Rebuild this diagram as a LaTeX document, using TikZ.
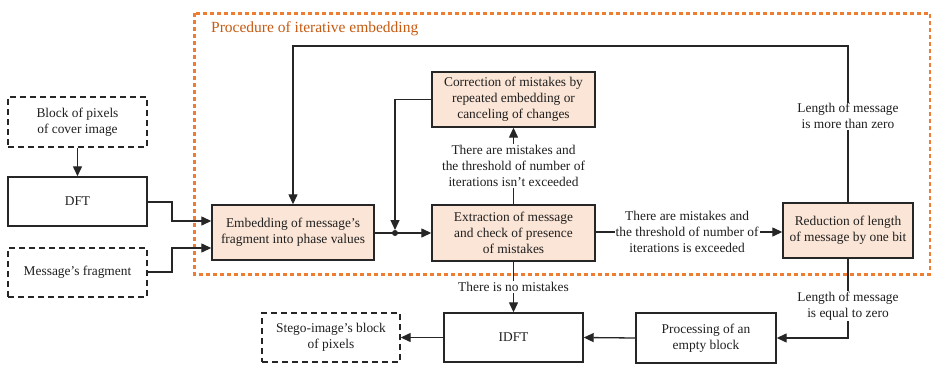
\documentclass[tikz,border=0pt]{standalone}
\usepackage{fontspec}
\setmainfont{Liberation Serif}
\newfontfamily\serf{Liberation Serif}
\usetikzlibrary{arrows.meta,positioning,calc}
\definecolor{boxfill}{HTML}{FBE5D6}
\definecolor{orangeline}{HTML}{ED7D31}
\definecolor{titlecol}{HTML}{C55A11}
\definecolor{txt}{HTML}{1F1F1F}
\begin{document}
\begin{tikzpicture}[x=1pt,y=-1pt,
  every node/.style={font=\serf\fontsize{13.4}{16}\selectfont, text=txt, align=center, inner sep=0pt},
  box/.style={draw=black!85, line width=1.4pt, minimum width=#1, minimum height=50pt},
  box/.default=139pt,
  dbox/.style={box=#1, dash pattern=on 6pt off 4pt},
  dbox/.default=139pt,
  pbox/.style={box=#1, fill=boxfill},
  pbox/.default=163pt,
  conn/.style={draw=black!85, line width=1.3pt},
  arr/.style={conn, -{Triangle[length=10pt,width=9pt]}},
  lbl/.style={fill=white, inner sep=1pt}
]
\useasboundingbox (0,0) rectangle (931,367);
% orange procedure frame
\draw[orangeline, line width=3pt, dash pattern=on 4pt off 3pt] (194,13) rectangle (930,274);
\node[anchor=west, text=titlecol, font=\serf\fontsize{15.5}{18}\selectfont] (title) at (211,29) {Procedure of iterative embedding};

% nodes
\node[dbox, minimum height=50pt] (block) at (77.5,122) {Block of pixels\\of cover image};
\node[box, minimum height=49pt] (dft) at (77.5,201.5) {DFT};
\node[dbox, minimum height=49pt] (msg) at (77.5,272.5) {Message’s fragment};
\node[pbox=162pt, minimum height=55pt] (emb) at (293,232.5) {Embedding of message’s\\fragment into phase values};
\node[pbox, minimum height=55pt] (corr) at (513.5,99.5) {Correction of mistakes by\\repeated embedding or\\canceling of changes};
\node[pbox, minimum height=56pt] (extr) at (513.5,233) {Extraction of message\\and check of presence\\of mistakes};
\node[pbox=130pt, minimum height=55pt] (red) at (848,230.5) {Reduction of length\\of message by one bit};
\node[box=140pt, minimum height=50pt] (proc) at (706,338) {Processing of an\\empty block};
\node[box, minimum height=49pt] (idft) at (513.5,337.5) {IDFT};
\node[dbox=138pt, minimum height=49pt] (stego) at (331,337.5) {Stego-image’s block\\of pixels};

% junction
\coordinate (j) at (395,233);
\coordinate (fbtopR) at (848,46);
\coordinate (fbtopL) at (293,46);
\coordinate (c1) at (395,99.5);
\coordinate (r1) at (848,338);

% connectors
\draw[arr] (block.south) -- (dft.north);
\draw[arr] (dft.east |- 0,202) -- (172,202) -- (172,221) -- (emb.west |- 0,221);
\draw[arr] (msg.east |- 0,272) -- (172,272) -- (172,248) -- (emb.west |- 0,248);
\draw[arr] (emb.east |- j) -- (extr.west |- j);
\draw[arr] (corr.west) -- (c1) -- ($(j)+(0,-3)$);
\fill[black!85] (j) circle (3pt);
\draw[arr] (extr.north) -- node[lbl] (l1) {There are mistakes and\\the threshold of number of\\iterations isn’t exceeded} (corr.south);
\draw[arr] (extr.east |- 0,232) -- node[lbl, pos=0.49] (l2) {There are mistakes and\\the threshold of number of\\iterations is exceeded} (red.west |- 0,232);
\draw[arr] (red.north) -- node[lbl, pos=0.55] (l3) {Length of message\\is more than zero} (fbtopR) -- (fbtopL) -- (emb.north);
\draw[arr] (red.south) -- node[lbl, pos=0.6] (l4) {Length of message\\is equal to zero} (r1) -- (proc.east);
\draw[arr] (extr.south) -- node[lbl, pos=0.5] (l5) {There is no mistakes} (idft.north);
\draw[arr] (proc.west) -- (idft.east);
\draw[arr] (idft.west) -- (stego.east);
\end{tikzpicture}
\end{document}
